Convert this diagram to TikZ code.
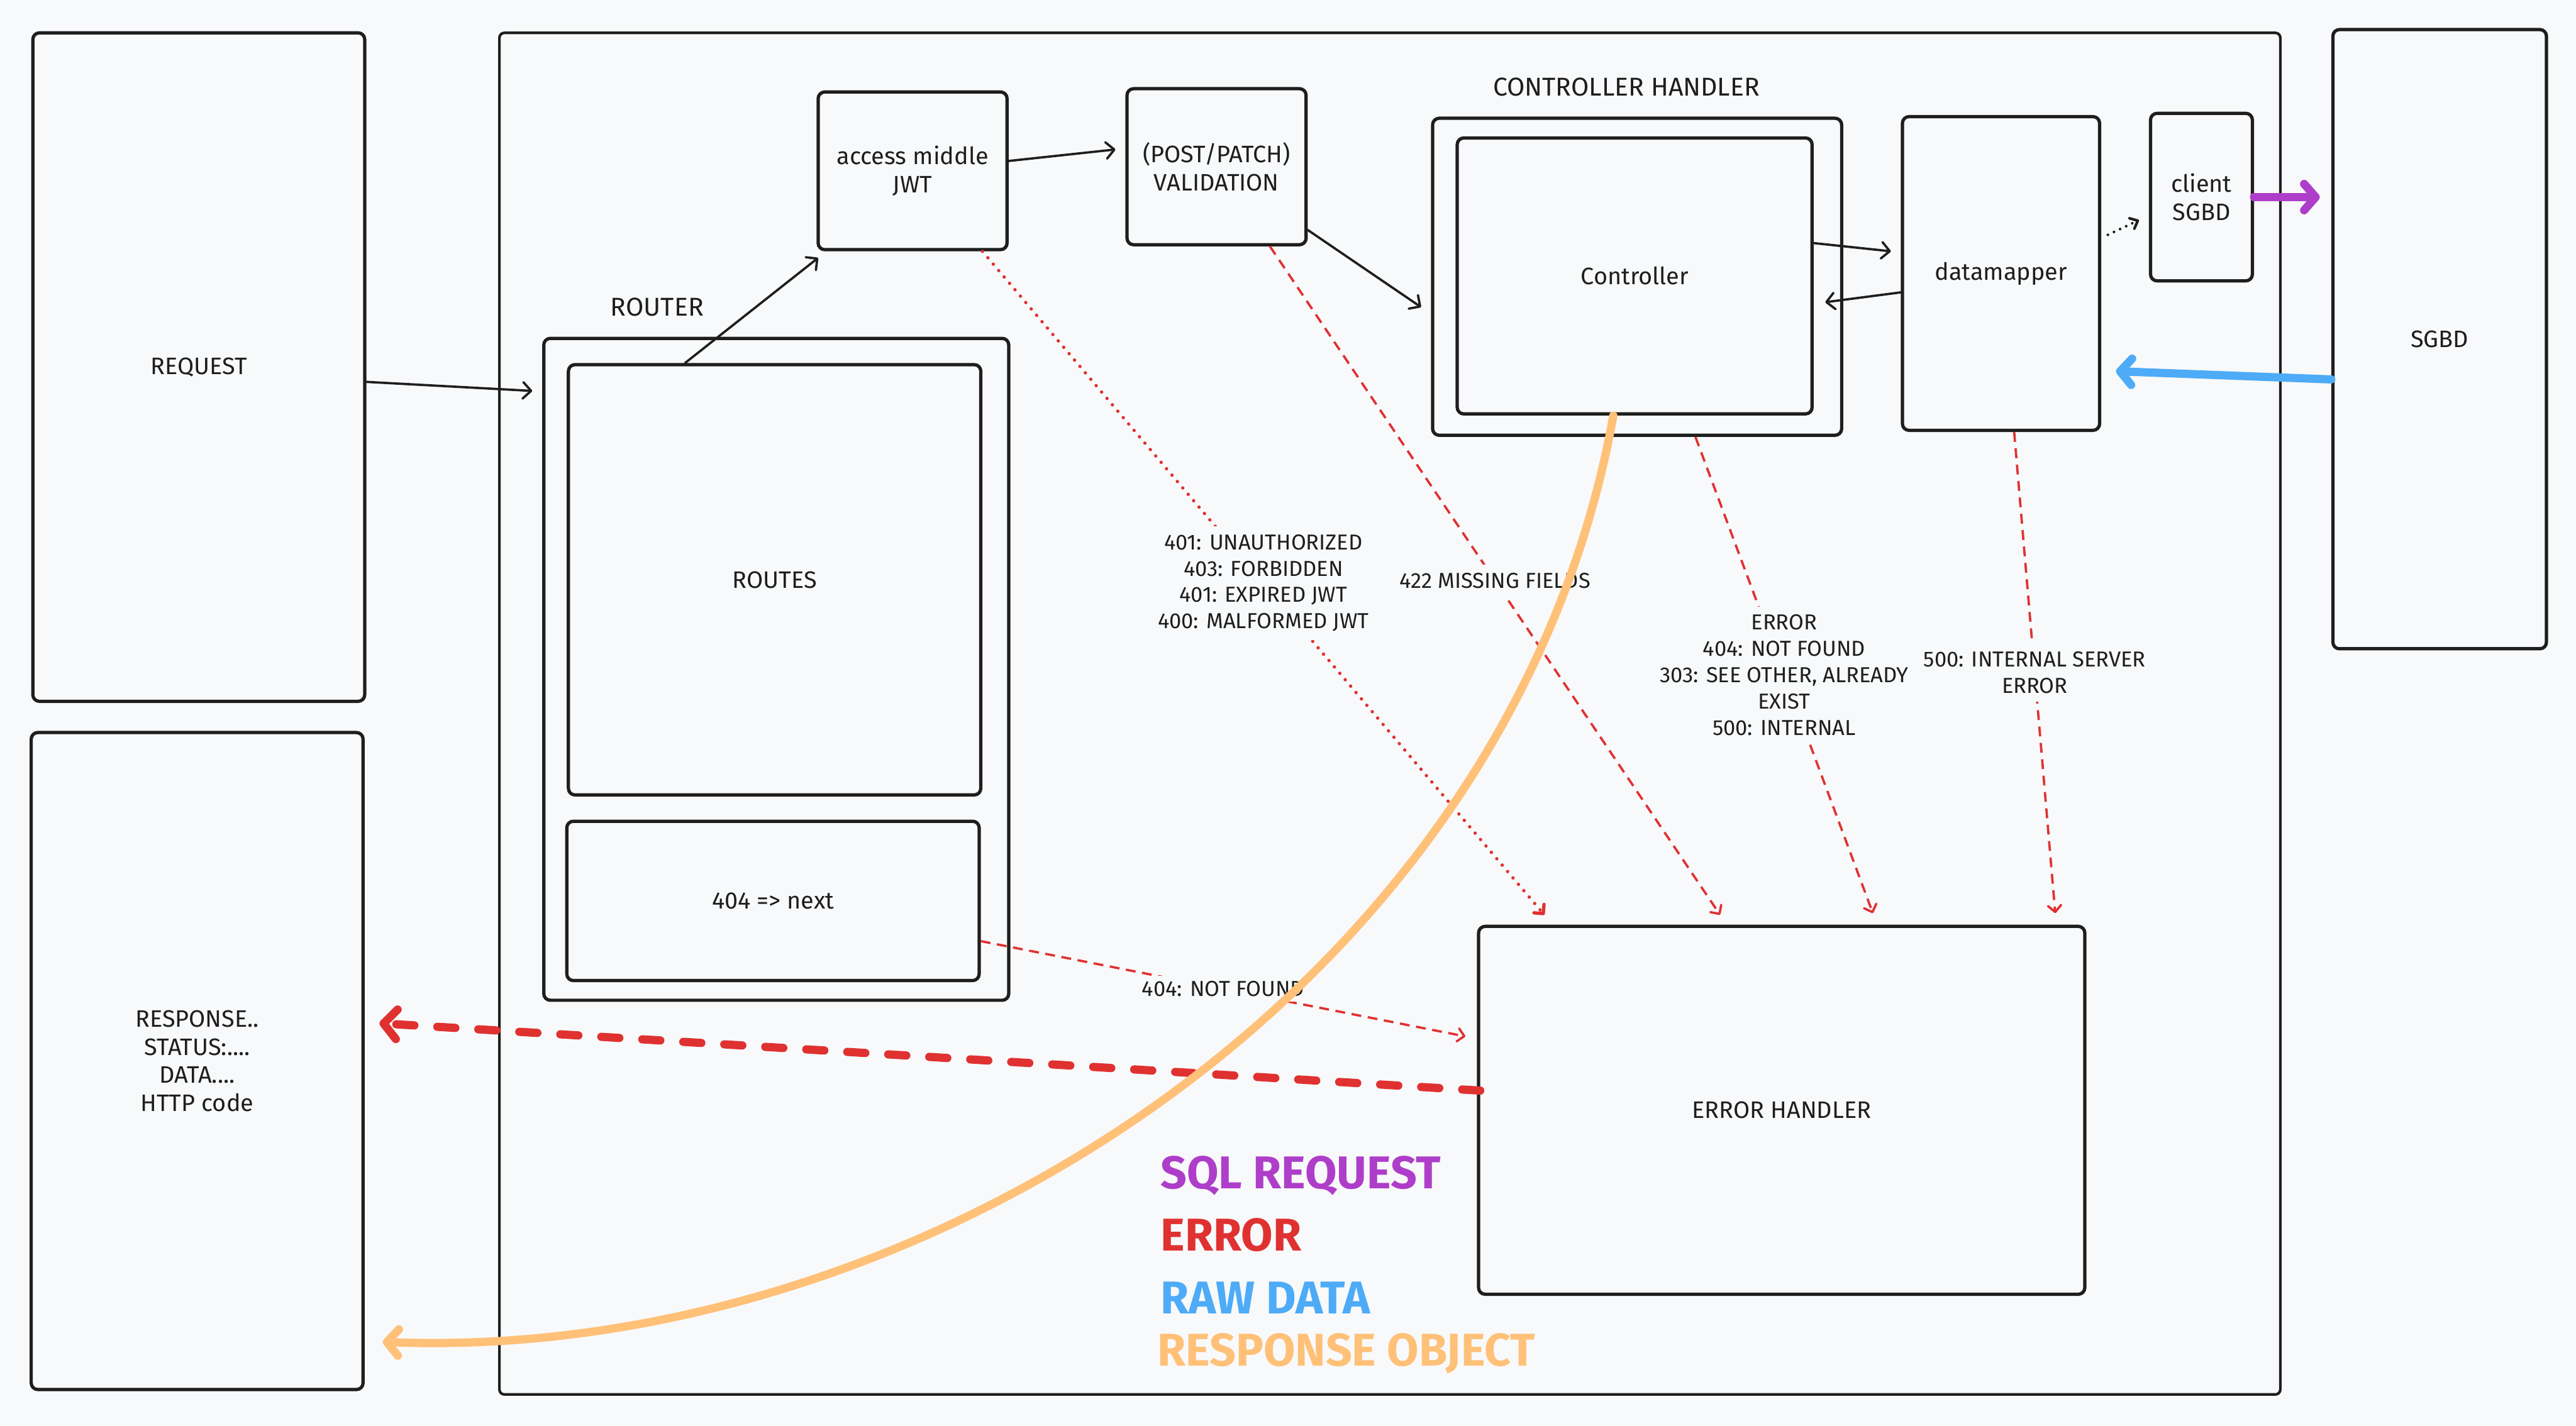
\documentclass[tikz,border=0pt]{standalone}
\usepackage{fontspec}
\setmainfont{Fira Sans}
\usetikzlibrary{arrows.meta}
\definecolor{bg}{HTML}{F8F9FA}
\definecolor{ink}{HTML}{1E1E1E}
\definecolor{ered}{HTML}{E03131}
\definecolor{eblue}{HTML}{4DABF7}
\definecolor{epurple}{HTML}{AE3EC9}
\definecolor{eorange}{HTML}{FFC078}
\begin{document}
\begin{tikzpicture}[x=1pt,y=-1pt,
  box/.style={draw=ink, line width=2pt, rounded corners=4pt, fill=bg, inner sep=0pt,
    align=center, text=ink, font=\fontsize{14.5}{17}\selectfont},
  titletext/.style={text=ink, font=\fontsize{15.7}{18}\selectfont},
  lbl/.style={fill=bg, text=ink, align=center, inner sep=5pt,
    font=\fontsize{13.2}{16}\selectfont},
  blk/.style={draw=ink, line width=1.4pt, line cap=round,
    -{Straight Barb[length=5pt,width=10pt,line cap=round,line join=round]}},
  blkdot/.style={draw=ink, line width=1.6pt, line cap=round, dash pattern=on 0.1pt off 4pt,
    -{Straight Barb[length=4pt,width=7pt,line cap=round,line join=round]}},
  errdash/.style={draw=ered, line width=1.4pt, dash pattern=on 6pt off 4pt,
    -{Straight Barb[length=4pt,width=8pt,line cap=round,line join=round]}},
  errdot/.style={draw=ered, line width=2pt, line cap=round, dash pattern=on 0.1pt off 5pt,
    -{Straight Barb[length=4pt,width=8pt,line cap=round,line join=round]}},
  errbig/.style={draw=ered, line width=5pt, line cap=round, dash pattern=on 11pt off 14pt,
    -{Straight Barb[length=8pt,width=18pt,line cap=round,line join=round]}},
  fat/.style={line width=5pt, line cap=round,
    -{Straight Barb[length=7pt,width=16pt,line cap=round,line join=round]}},
  legend/.style={anchor=west, font=\fontsize{28}{32}\selectfont\bfseries}
]
% canvas
\fill[bg] (0,0) rectangle (1568,868);
\useasboundingbox (0,0) rectangle (1568,868);

% main container
\node[draw=ink, line width=1.6pt, rounded corners=3pt, fill=bg, minimum width=1084pt, minimum height=829pt, inner sep=0pt] (app) at (846,434.5) {};

% boxes
\node[box, minimum width=202pt, minimum height=407pt] (request) at (121,223.5) {REQUEST};
\node[box, minimum width=202pt, minimum height=400pt] (response) at (120,646) {RESPONSE..\\STATUS:....\\DATA....\\HTTP code};
\node[box, minimum width=130pt, minimum height=377pt] (sgbd) at (1485,206.5) {SGBD};

\node[box, minimum width=115pt, minimum height=96pt] (access) at (555.5,104) {access middle\\JWT};
\node[box, minimum width=109pt, minimum height=95pt] (valid) at (740.5,101.5) {(POST/PATCH)\\VALIDATION};

\node[box, minimum width=249pt, minimum height=193pt] (ctrlh) at (996.5,168.5) {};
\node[box, minimum width=216pt, minimum height=168pt] (ctrl) at (995,168) {Controller};
\node[titletext] (ctrlhtitle) at (990,53) {CONTROLLER HANDLER};

\node[box, minimum width=120pt, minimum height=191pt] (dm) at (1218,166.5) {datamapper};
\node[box, minimum width=62pt, minimum height=102pt] (client) at (1340,120) {client\\SGBD};

\node[box, minimum width=283pt, minimum height=403pt] (router) at (472.5,407.5) {};
\node[box, minimum width=251pt, minimum height=262pt] (routes) at (471.5,353) {ROUTES};
\node[box, minimum width=251pt, minimum height=97pt] (next) at (470.5,548.5) {404 => next};
\node[titletext] (routertitle) at (400,187) {ROUTER};

\node[box, minimum width=369pt, minimum height=224pt] (eh) at (1084.5,676) {ERROR HANDLER};

% black connectors
\draw[blk] ([yshift=-9pt]request.east) -- ([xshift=-6pt,yshift=-33pt]router.north west);
\draw[blk] ([xshift=72pt]routes.north west) -- ([xshift=1pt,yshift=-4pt]access.south west);
\draw[blk] ([yshift=6pt]access.east) -- ([xshift=-6pt,yshift=10.5pt]valid.west);
\draw[blk] ([yshift=-38.5pt]valid.east) -- ([xshift=-6pt,yshift=-18.5pt]ctrlh.west);
\draw[blk] ([yshift=20pt]ctrl.east) -- ([xshift=-6pt,yshift=13.5pt]dm.west);
\draw[blk] ([yshift=-11.5pt]dm.west) -- ([xshift=7pt,yshift=-16pt]ctrl.east);
\draw[blkdot] ([xshift=4pt,yshift=23.5pt]dm.east) -- ([xshift=-6pt,yshift=-14pt]client.west);

% SQL request / raw data
\draw[fat, draw=epurple] (client.east) -- ([xshift=-7pt,yshift=86.5pt]sgbd.west);
\draw[fat, draw=eblue] ([yshift=-24.5pt]sgbd.west) -- ([xshift=9pt,yshift=-59.5pt]dm.east);

% error connectors
\draw[errdot] ([xshift=-16pt]access.south east)
  -- node[lbl] (lblauth) {401: UNAUTHORIZED\\403: FORBIDDEN\\401: EXPIRED JWT\\400: MALFORMED JWT}
  ([xshift=41pt,yshift=6pt]eh.north west);
\draw[errdash] ([xshift=32.5pt]valid.south)
  -- node[lbl] (lblmiss) {422 MISSING FIELDS}
  ([xshift=148pt,yshift=6pt]eh.north west);
\draw[errdash] ([xshift=35.5pt]ctrlh.south)
  -- node[lbl] (lblctrl) {ERROR\\404: NOT FOUND\\303: SEE OTHER, ALREADY\\EXIST\\500: INTERNAL}
  ([xshift=55.5pt,yshift=7pt]eh.north);
\draw[errdash] ([xshift=8pt]dm.south)
  -- node[lbl] (lbldm) {500: INTERNAL SERVER\\ERROR}
  ([xshift=-19pt,yshift=7pt]eh.north east);
\draw[errdash] ([yshift=-24.5pt]next.east)
  -- node[lbl, inner sep=3pt] (lblnf) {404: NOT FOUND}
  ([xshift=-7pt,yshift=45pt]eh.west);

% error response
\draw[errbig] ([xshift=2pt,yshift=12pt]eh.west) -- ([xshift=9pt,yshift=23pt]response.east);

% response object
\draw[fat, draw=eorange] ([xshift=-13pt]ctrl.south) .. controls (920,600) and (560,830) .. ([xshift=11pt,yshift=-171pt]response.east);

% legend
\node[legend, text=epurple] (legsql) at (703,716) {SQL REQUEST};
\node[legend, text=ered] (legerr) at (703,752) {ERROR};
\node[legend, text=eblue] (legraw) at (703,790) {RAW DATA};
\node[legend, text=eorange] (legresp) at (701,824) {RESPONSE OBJECT};
\end{tikzpicture}
\end{document}
